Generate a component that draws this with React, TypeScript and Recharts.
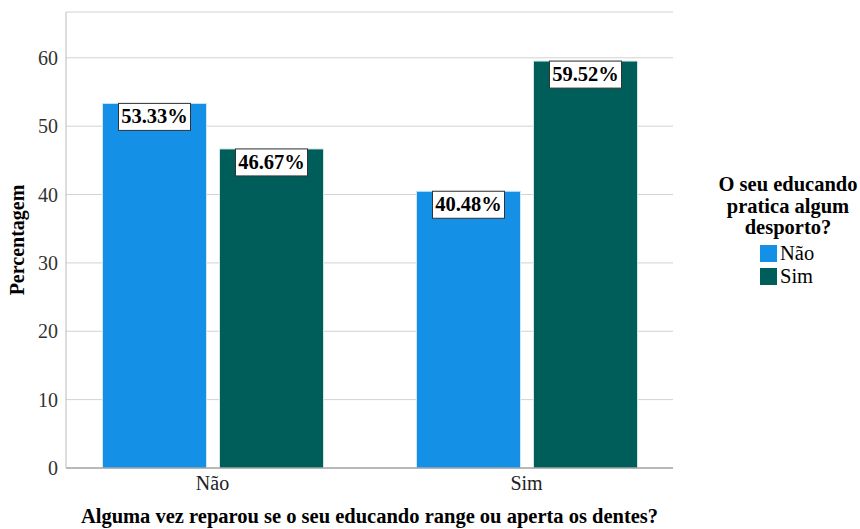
import React from 'react';
import { BarChart, Bar, XAxis, YAxis, CartesianGrid, LabelList } from 'recharts';

const categories = ['Não', 'Sim'];
const naoValues = [53.33, 40.48];
const simValues = [46.67, 59.52];
const yTicks = [0, 10, 20, 30, 40, 50, 60];
const seriesNames = ['Não', 'Sim'];

const data = categories.map((c, i) => ({ name: c, nao: naoValues[i], sim: simValues[i] }));

const BLUE = '#1491e6';
const TEAL = '#005e5a';
const FONT = 'Liberation Serif, serif';

const BoxLabel = (props: any) => {
  const { x, y, width, value } = props;
  const cx = x + width / 2;
  const w = 72;
  return (
    <g>
      <rect x={cx - w / 2} y={y} width={w} height={27} fill="#fff" stroke="#333" strokeWidth={1} />
      <text x={cx} y={y + 20} textAnchor="middle" fontFamily={FONT} fontWeight="bold" fontSize={20.5} fill="#000">
        {value.toFixed(2)}%
      </text>
    </g>
  );
};

const LegendBox = () => (
  <div style={{ position: 'absolute', left: 712, top: 174, fontFamily: FONT, color: '#000', width: 152, textAlign: 'center' }}>
    <div style={{ fontWeight: 'bold', fontSize: 20.5, lineHeight: '21.5px' }}>
      O seu educando<br />pratica algum<br />desporto?
    </div>
    {seriesNames.map((n, i) => (
      <div key={n} style={{ display: 'flex', alignItems: 'center', marginLeft: 48, marginTop: i === 0 ? 6 : 5, height: 18 }}>
        <span style={{ display: 'inline-block', width: 17, height: 17, background: i === 0 ? BLUE : TEAL, marginRight: 3 }} />
        <span style={{ fontSize: 20.5, fontFamily: FONT }}>{n}</span>
      </div>
    ))}
  </div>
);

export default function App() {
  return (
    <div style={{ position: 'absolute', left: 0, top: 0, width: 860, height: 529 }}>
      <BarChart
        width={860}
        height={529}
        data={data}
        margin={{ top: 12, right: 187, bottom: 0, left: 0 }}
        barSize={104}
        barGap={13}
      >
        <CartesianGrid vertical={false} stroke="#d2d2d2" />
        <XAxis
          dataKey="name"
          height={61}
          padding={{ left: -10.5, right: -10.5 }}
          tickLine={false}
          axisLine={{ stroke: '#888' }}
          tick={{ fontFamily: FONT, fontSize: 20, fill: '#222' }}
          tickMargin={2}
          label={{
            value: 'Alguma vez reparou se o seu educando range ou aperta os dentes?',
            position: 'insideBottom',
            offset: 6,
            style: { fontFamily: FONT, fontWeight: 'bold', fontSize: 20.5, fill: '#000' },
          }}
        />
        <YAxis
          domain={[0, 66.7]}
          ticks={yTicks}
          tickLine={false}
          axisLine={{ stroke: '#bbb' }}
          tick={{ fontFamily: FONT, fontSize: 20, fill: '#333' }}
          tickMargin={2}
          width={66}
          label={{
            value: 'Percentagem',
            angle: -90,
            position: 'insideLeft',
            offset: 17,
            style: { fontFamily: FONT, fontWeight: 'bold', fontSize: 20, fill: '#000', textAnchor: 'middle' },
          }}
        />
        <Bar dataKey="nao" name="Não" fill={BLUE} stroke="#cfe6f5" strokeWidth={1} isAnimationActive={false}>
          <LabelList dataKey="nao" content={<BoxLabel />} />
        </Bar>
        <Bar dataKey="sim" name="Sim" fill={TEAL} stroke="#cfe6e6" strokeWidth={1} isAnimationActive={false}>
          <LabelList dataKey="sim" content={<BoxLabel />} />
        </Bar>
      </BarChart>
      <LegendBox />
    </div>
  );
}
